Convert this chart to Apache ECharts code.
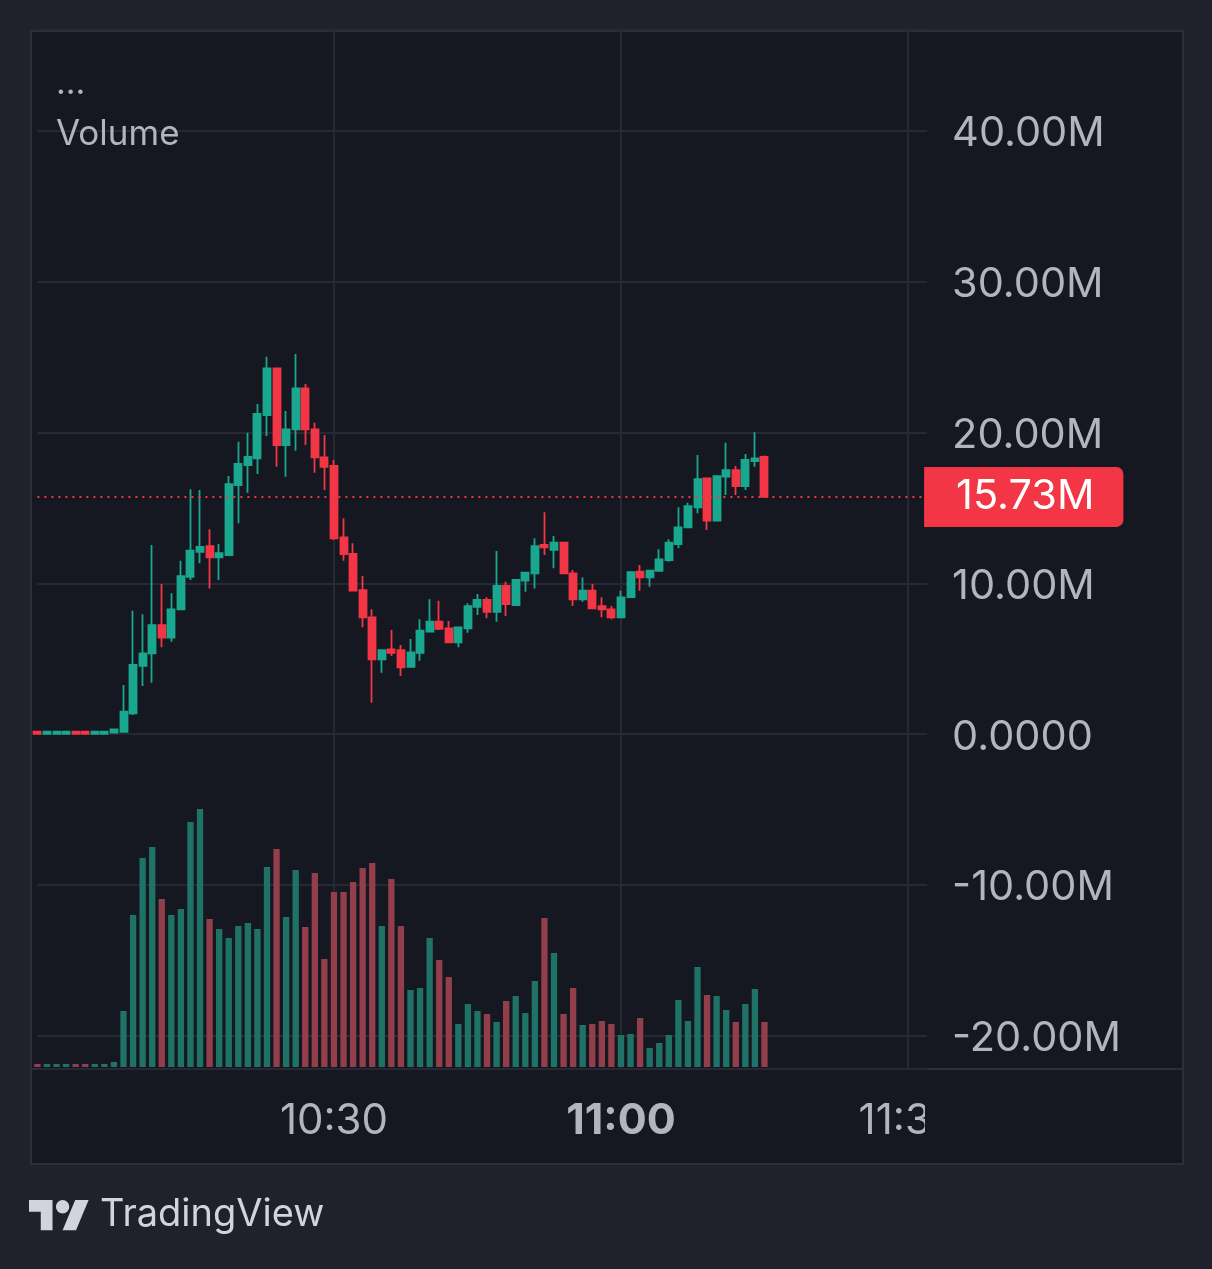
<!DOCTYPE html>
<html><head><meta charset="utf-8">
<script src="https://cdn.jsdelivr.net/npm/echarts@6/dist/echarts.min.js"></script>
<style>
html,body{margin:0;padding:0;background:#1f212b;}
#frame{position:absolute;left:30px;top:30px;width:1150px;height:1131px;border:2px solid #2c2f39;background:#161821;}
#sep{position:absolute;left:32px;top:1068px;width:1150px;height:2px;background:#2c2f39;}
#c{position:absolute;left:0;top:0;width:1212px;height:1269px;}
#cover{position:absolute;left:925px;top:1071px;width:255px;height:90px;background:#161821;}
</style>
</head><body>
<div id="frame"></div><div id="sep"></div>
<div id="c"></div>
<div id="cover"></div>
<script>
const times = ['09:59',
'10:00','10:01','10:02','10:03','10:04','10:05','10:06','10:07','10:08','10:09',
'10:10','10:11','10:12','10:13','10:14','10:15','10:16','10:17','10:18','10:19',
'10:20','10:21','10:22','10:23','10:24','10:25','10:26','10:27','10:28','10:29',
'10:30','10:31','10:32','10:33','10:34','10:35','10:36','10:37','10:38','10:39',
'10:40','10:41','10:42','10:43','10:44','10:45','10:46','10:47','10:48','10:49',
'10:50','10:51','10:52','10:53','10:54','10:55','10:56','10:57','10:58','10:59',
'11:00','11:01','11:02','11:03','11:04','11:05','11:06','11:07','11:08','11:09',
'11:10','11:11','11:12','11:13','11:14','11:15','11:16','11:17','11:18','11:19',
'11:20','11:21','11:22','11:23','11:24','11:25','11:26','11:27','11:28','11:29',
'11:30','11:31','11:32'];
const timeLabels = ['10:30','11:00','11:30'];

// prices in millions
const opens = [0.15,0.01,0.01,0.01,0.15,0.15,0.01,0.01,0.09,
0.15,1.37,4.53,5.35,7.23,6.39,8.27,10.43,12.09,12.47,11.72,11.87,16.52,17.84,18.29,21.16,24.26,
19.17,20.21,22.93,20.21,18.35,17.78,13.05,11.94,9.55,7.74,4.96,5.62,5.57,4.46,5.39,6.79,7.45,7.01,6.08,7.01,8.44,8.89,8.11,9.82,8.56,
10.17,10.66,12.54,12.21,12.69,10.66,8.94,9.51,8.49,8.27,7.74,9.09,10.77,10.39,10.83,11.54,12.60,13.71,15.04,16.96,14.15,17.07,17.51,16.45,18.11,18.39];
const highs = [0.15,0.15,0.15,0.15,0.15,0.15,0.15,0.15,0.31,
3.25,8.18,7.94,12.54,9.95,9.33,11.50,16.23,16.19,13.58,12.60,17.11,19.39,19.99,21.89,25.03,24.26,
21.43,25.21,23.22,20.65,19.83,18.18,14.31,12.65,10.48,8.27,5.57,6.90,5.90,6.30,7.61,8.94,8.84,7.50,7.08,8.67,9.29,9.07,12.14,10.10,10.22,
10.77,12.98,14.71,13.13,12.69,10.88,10.39,9.95,9.07,8.49,9.51,10.77,11.21,10.83,12.25,12.92,15.04,15.34,18.51,16.96,17.11,19.32,17.78,18.57,20.01,18.47];
const lows = [0.01,0.01,0.01,0.01,0.01,0.01,0.01,0.01,0.09,
0.15,1.26,3.18,3.40,5.75,6.12,8.22,10.22,11.32,9.66,10.22,11.87,13.98,16.01,17.25,19.77,17.73,
17.07,18.79,19.17,17.33,16.19,12.87,11.50,9.51,7.08,2.08,4.07,5.17,3.85,4.46,4.86,6.79,6.90,6.02,5.75,6.72,7.89,7.68,7.45,7.83,8.49,
9.44,9.66,11.87,10.99,10.66,8.49,8.78,8.34,7.74,7.61,7.74,9.07,9.51,9.77,10.83,11.43,12.32,13.71,14.64,13.53,14.15,15.85,15.85,16.19,17.73,15.73];
const closes = [0.01,0.15,0.15,0.15,0.01,0.01,0.15,0.15,0.31,
1.48,4.58,5.35,7.23,6.39,8.27,10.48,12.16,12.42,11.72,11.99,16.58,17.91,18.39,21.23,24.26,19.17,
20.21,22.93,20.21,18.35,17.73,12.98,11.94,9.51,7.74,4.96,5.57,5.39,4.42,5.42,6.85,7.45,6.97,6.08,7.08,8.49,8.89,8.11,9.82,8.62,10.22,
10.70,12.47,12.38,12.69,10.66,8.94,9.51,8.34,8.27,7.74,9.07,10.74,10.39,10.83,11.59,12.69,13.71,15.12,16.90,14.15,17.11,17.51,16.45,18.18,18.29,15.73];
const volumes = [0.3,0.3,0.3,0.3,0.3,0.3,0.3,0.3,0.5,
5.6,15.2,20.9,22.0,16.8,15.2,15.8,24.5,25.8,14.8,13.8,12.9,14.1,14.4,13.8,20.0,21.8,
15.0,19.7,14.0,19.4,10.8,17.5,17.5,18.5,19.9,20.4,14.1,18.8,14.1,7.7,7.9,12.9,10.7,9.0,4.3,6.3,5.6,5.3,4.5,6.6,7.1,
5.4,8.6,14.9,11.4,5.3,7.9,4.2,4.3,4.6,4.3,3.2,3.3,4.9,1.9,2.4,3.2,6.7,4.6,10.0,7.2,7.1,5.7,4.5,6.3,7.8,4.5];
const lastPrice = 15.73;

const UP = '#19a88f', DOWN = '#f23645', VUP = '#1f7366', VDOWN = '#933f4b';
const TXT = '#b2b5be', GRID = '#262933', FONT = 'Inter, "Noto Sans", sans-serif';
const LOGO = '#d1d4dc';

const candleData = opens.map((o, i) => [o, closes[i], lows[i], highs[i]]);
const volData = volumes.map((v, i) => ({ value: v, itemStyle: { color: closes[i] >= opens[i] ? VUP : VDOWN } }));
const isMark = (i, v) => timeLabels.indexOf(v) >= 0;
const fmtPrice = v => (Math.abs(v) < 1e-9 ? '0.0000' : v.toFixed(2) + 'M');

const chart = echarts.init(document.getElementById('c'), null, { renderer: 'canvas' });
chart.setOption({
  backgroundColor: 'transparent',
  animation: false,
  grid: { left: 37.4, right: 284.9, top: 30, bottom: 200 },
  xAxis: {
    type: 'category', data: times, boundaryGap: false,
    axisLine: { show: false }, axisTick: { show: false },
    axisLabel: {
      interval: isMark, margin: 31, color: TXT, fontSize: 42, fontFamily: FONT,
      formatter: v => (v.endsWith(':00') ? '{b|' + v + '}' : v),
      rich: { b: { fontWeight: 'bold', fontSize: 43, color: TXT, fontFamily: FONT } }
    },
    splitLine: { show: true, interval: isMark, lineStyle: { color: GRID, width: 2 } }
  },
  yAxis: [{
    type: 'value', position: 'right', min: -22.22, max: 46.70, splitNumber: 7,
    minInterval: 10, maxInterval: 10,
    axisLine: { show: false }, axisTick: { show: false },
    axisLabel: { showMinLabel: false, showMaxLabel: false, margin: 25, color: TXT, fontSize: 41.5, fontFamily: FONT,
      formatter: v => '{p|' + fmtPrice(v) + '}',
      rich: { p: { padding: [6, 0, 0, 0], fontSize: 41.5, color: TXT, fontFamily: FONT } } },
    splitLine: { show: true, lineStyle: { color: GRID, width: 2 } }
  }, {
    type: 'value', min: -0.2, max: 103.7, show: false, splitLine: { show: false }
  }],
  graphic: [
    { type: 'text', x: 56, y: 67, z: 100, style: { text: '...', fill: TXT, font: '34px ' + FONT } },
    { type: 'text', x: 56, y: 117, z: 100, style: { text: 'Volume', fill: TXT, font: '35px ' + FONT } },
    { type: 'group', x: 29, y: 1193.3, scaleX: 1.68, scaleY: 1.68, z: 100, children: [
      { type: 'polygon', shape: { points: [[14,22],[7,22],[7,11],[0,11],[0,4],[14,4]] }, style: { fill: LOGO } },
      { type: 'polygon', shape: { points: [[28,22],[20,22],[27.5,4],[35.5,4]] }, style: { fill: LOGO } },
      { type: 'circle', shape: { cx: 20, cy: 8, r: 4 }, style: { fill: LOGO } }
    ]},
    { type: 'text', x: 100, y: 1196, z: 100, style: { text: 'TradingView', fill: LOGO, font: '38px ' + FONT } }
  ],
  series: [{
    type: 'bar', data: volData, xAxisIndex: 0, yAxisIndex: 1, barWidth: 6.3, clip: false, z: 1, silent: true
  }, {
    type: 'candlestick', data: candleData, xAxisIndex: 0, yAxisIndex: 0, barWidth: 7.5, clip: false, z: 3, silent: true,
    itemStyle: { color: UP, color0: DOWN, borderColor: UP, borderColor0: DOWN, borderWidth: 1.8 },
    markLine: {
      silent: true, symbol: ['none', 'none'], animation: false,
      lineStyle: { color: DOWN, type: [2, 5], width: 2 },
      label: {
        show: true, position: 'end', distance: -3, formatter: p => fmtPrice(p.value),
        color: '#ffffff', fontSize: 41.5, fontFamily: FONT, lineHeight: 40,
        backgroundColor: DOWN, padding: [13, 29, 7, 32], borderRadius: [0, 7, 7, 0]
      },
      data: [{ yAxis: lastPrice }]
    }
  }]
});
</script>
</body></html>
